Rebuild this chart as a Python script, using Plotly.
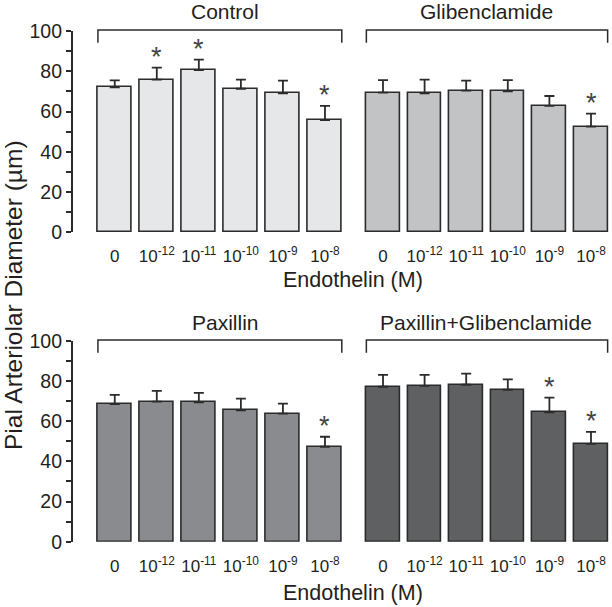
import plotly.graph_objects as go

# ---- data ----
categories = ["0", "10<sup>-12</sup>", "10<sup>-11</sup>", "10<sup>-10</sup>", "10<sup>-9</sup>", "10<sup>-8</sup>"]
panel_titles = ["Control", "Glibenclamide", "Paxillin", "Paxillin+Glibenclamide"]

control_mean = [72, 75.8, 80.6, 71.3, 69, 55.7]
control_err = [3.5, 6, 5.2, 4.5, 6.3, 7.1]
control_sig = [False, True, True, False, False, True]

glib_mean = [69.4, 69, 70.4, 70, 62.8, 52.5]
glib_err = [6.2, 6.8, 4.9, 5.6, 4.9, 6.5]
glib_sig = [False, False, False, False, False, True]

pax_mean = [68.6, 69.8, 69.4, 65.5, 63.8, 47.3]
pax_err = [4.6, 5.3, 4.8, 5.8, 5.0, 5.0]
pax_sig = [False, False, False, False, False, True]

paxglib_mean = [77.2, 77.6, 78.2, 75.7, 64.5, 48.7]
paxglib_err = [5.9, 5.5, 5.5, 5.2, 7.3, 6.0]
paxglib_sig = [False, False, False, False, True, True]

y_ticks = [0, 20, 40, 60, 80, 100]

# ---- layout geometry ----
W, H = 612, 607
def px(x):
    return x / W
def py(y):
    return (H - y) / H

x_dom = [[px(72.7), px(346.0)], [px(362.2), px(611.8)]]
x_rng = [[-1.0, 5.5], [-0.5, 5.5]]
y_dom = [[py(232.3), py(31.0)], [py(541.7), py(341.0)]]

fills = ["#e6e7e9", "#c2c3c5", "#8a8b8e", "#5f6062"]
edge = "#2b2b2b"
txt = "#231f20"
font_family = "Liberation Sans, Arial, Helvetica, sans-serif"

panels = [
    (control_mean, control_err, control_sig),
    (glib_mean, glib_err, glib_sig),
    (pax_mean, pax_err, pax_sig),
    (paxglib_mean, paxglib_err, paxglib_sig),
]

fig = go.Figure()
annotations = []
shapes = []

for k, (mean, err, sig) in enumerate(panels):
    row, col = divmod(k, 2)
    ax_n = k + 1
    xa = "x" if ax_n == 1 else f"x{ax_n}"
    ya = "y" if ax_n == 1 else f"y{ax_n}"
    fig.add_trace(go.Bar(
        x=list(range(len(categories))), y=mean,
        xaxis=xa, yaxis=ya,
        width=0.81,
        marker=dict(color=fills[k], line=dict(color=edge, width=1.6)),
        error_y=dict(type="data", array=err, arrayminus=[0] * len(err), symmetric=False,
                     color=edge, thickness=1.8, width=5),
        showlegend=False, hoverinfo="skip",
    ))
    lay_x = "xaxis" if ax_n == 1 else f"xaxis{ax_n}"
    lay_y = "yaxis" if ax_n == 1 else f"yaxis{ax_n}"
    fig.layout[lay_x] = dict(
        domain=x_dom[col], anchor=ya, range=x_rng[col], automargin=False,
        tickmode="array", tickvals=list(range(len(categories))), ticktext=categories,
        showline=False, ticks="", showgrid=False, zeroline=False,
        tickfont=dict(size=17, color=txt, family=font_family),
        ticklabelstandoff=12,
    )
    ydict = dict(
        domain=y_dom[row], anchor=xa, range=[0, 100], showgrid=False, zeroline=False,
        automargin=False,
    )
    if col == 0:
        ydict.update(
            showline=True, linecolor=edge, linewidth=1.5,
            ticks="outside", ticklen=5, tickwidth=1.5, tickcolor=edge,
            tickvals=y_ticks, ticktext=[str(v) for v in y_ticks],
            tickfont=dict(size=19.5, color=txt, family=font_family),
            minor=dict(dtick=10, ticks="outside", ticklen=5, tickwidth=1.5, tickcolor=edge),
        )
    else:
        ydict.update(visible=False)
    fig.layout[lay_y] = ydict

    # significance asterisks
    for i, s in enumerate(sig):
        if s:
            annotations.append(dict(
                x=i, y=mean[i] + err[i], xref=xa, yref=ya, text="*", showarrow=False,
                yanchor="middle", yshift=11, font=dict(size=27, color="#444", family=font_family),
            ))

    # bracket above each panel
    top = y_dom[row][1]
    b_top = top + 1.0 / H
    b_bot = top - 11.7 / H
    shapes.append(dict(type="path", xref=xa, yref="paper",
                       path=f"M -0.4,{b_bot} L -0.4,{b_top} L 5.4,{b_top} L 5.4,{b_bot}",
                       line=dict(color=edge, width=1.5)))

    # panel title
    title_x = [px(225), px(486)][col]
    title_y = [py(12), py(322.5)][row]
    annotations.append(dict(
        x=title_x, y=title_y, xref="paper", yref="paper", text=panel_titles[k],
        showarrow=False, xanchor="center", yanchor="middle",
        font=dict(size=21, color=txt, family=font_family),
    ))

# x-axis titles
for yy in [py(280), py(593)]:
    annotations.append(dict(
        x=px(353), y=yy, xref="paper", yref="paper", text="Endothelin (M)",
        showarrow=False, xanchor="center", yanchor="middle",
        font=dict(size=21.5, color=txt, family=font_family),
    ))

# y-axis title
annotations.append(dict(
    x=px(13), y=py(295), xref="paper", yref="paper", text="Pial Arteriolar Diameter (µm)",
    showarrow=False, textangle=-90, xanchor="center", yanchor="middle",
    font=dict(size=24.5, color=txt, family=font_family),
))

fig.update_layout(
    width=W, height=H, margin=dict(l=0, r=0, t=0, b=0, autoexpand=False),
    paper_bgcolor="white", plot_bgcolor="white",
    annotations=annotations, shapes=shapes, bargap=0,
)

fig.write_html("out.html", config={"displayModeBar": False},
               post_script="document.body.style.margin='0';document.body.style.overflow='hidden';")
